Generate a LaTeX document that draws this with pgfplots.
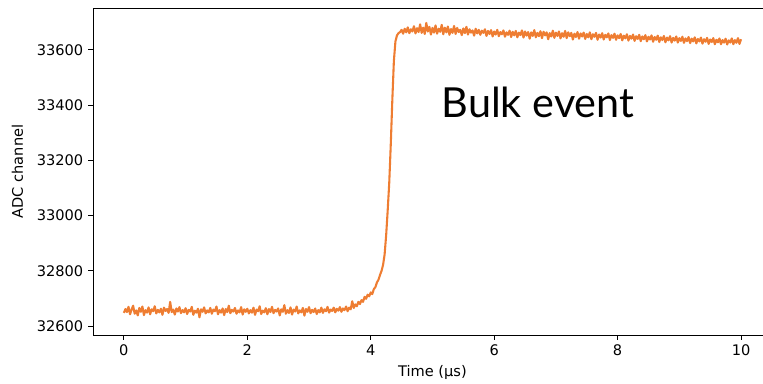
\documentclass[border=0pt]{standalone}
\usepackage{fontspec}
\setmainfont{DejaVu Sans}
\newfontfamily\lato{Lato}
\usepackage{pgfplots}
\usepackage{pgfplotstable}
\pgfplotsset{compat=1.18}
\definecolor{trace}{RGB}{238,125,50}
\pgfplotstableread{
x y
0.000 32648
0.025 32662
0.050 32651
0.075 32670
0.100 32643
0.125 32660
0.150 32674
0.175 32645
0.200 32657
0.225 32639
0.250 32666
0.275 32652
0.300 32671
0.325 32640
0.350 32658
0.375 32649
0.400 32668
0.425 32643
0.450 32661
0.475 32654
0.500 32672
0.525 32646
0.550 32659
0.575 32650
0.600 32663
0.625 32641
0.650 32667
0.675 32655
0.700 32662
0.725 32648
0.750 32688
0.775 32651
0.800 32660
0.825 32642
0.850 32664
0.875 32653
0.900 32669
0.925 32647
0.950 32658
0.975 32650
1.000 32665
1.025 32644
1.050 32659
1.075 32653
1.100 32670
1.125 32641
1.150 32656
1.175 32649
1.200 32663
1.225 32632
1.250 32661
1.275 32652
1.300 32668
1.325 32646
1.350 32657
1.375 32650
1.400 32666
1.425 32645
1.450 32660
1.475 32654
1.500 32671
1.525 32643
1.550 32658
1.575 32649
1.600 32664
1.625 32640
1.650 32662
1.675 32651
1.700 32674
1.725 32647
1.750 32659
1.775 32653
1.800 32666
1.825 32645
1.850 32657
1.875 32650
1.900 32669
1.925 32642
1.950 32661
1.975 32652
2.000 32663
2.025 32646
2.050 32658
2.075 32649
2.100 32667
2.125 32641
2.150 32660
2.175 32654
2.200 32672
2.225 32644
2.250 32656
2.275 32650
2.300 32665
2.325 32643
2.350 32662
2.375 32651
2.400 32670
2.425 32647
2.450 32659
2.475 32653
2.500 32664
2.525 32639
2.550 32661
2.575 32652
2.600 32676
2.625 32645
2.650 32658
2.675 32648
2.700 32668
2.725 32642
2.750 32660
2.775 32653
2.800 32671
2.825 32646
2.850 32657
2.875 32650
2.900 32666
2.925 32638
2.950 32662
2.975 32652
3.000 32669
3.025 32647
3.050 32659
3.075 32651
3.100 32664
3.125 32644
3.150 32658
3.175 32650
3.200 32667
3.225 32648
3.250 32661
3.275 32654
3.300 32670
3.325 32649
3.350 32660
3.375 32655
3.400 32667
3.425 32650
3.450 32663
3.475 32656
3.500 32669
3.525 32652
3.550 32664
3.575 32658
3.600 32671
3.625 32654
3.650 32667
3.675 32661
3.700 32690
3.725 32666
3.750 32679
3.775 32672
3.800 32688
3.825 32680
3.850 32694
3.875 32688
3.900 32706
3.925 32699
3.950 32714
3.975 32708
4.000 32722
4.025 32716
4.050 32734
4.075 32741
4.100 32758
4.125 32768
4.150 32785
4.175 32800
4.200 32822
4.225 32860
4.250 32930
4.275 33020
4.300 33120
4.325 33260
4.350 33420
4.375 33560
4.400 33630
4.425 33652
4.450 33660
4.475 33664
4.500 33672
4.525 33658
4.550 33676
4.575 33663
4.600 33681
4.625 33660
4.650 33674
4.675 33666
4.700 33685
4.725 33659
4.750 33678
4.775 33664
4.800 33692
4.825 33661
4.850 33680
4.875 33657
4.900 33697
4.925 33666
4.950 33683
4.975 33655
5.000 33679
5.025 33662
5.050 33688
5.075 33658
5.100 33676
5.125 33665
5.150 33690
5.175 33656
5.200 33680
5.225 33663
5.250 33684
5.275 33654
5.300 33675
5.325 33661
5.350 33686
5.375 33657
5.400 33679
5.425 33664
5.450 33672
5.475 33653
5.500 33677
5.525 33660
5.550 33683
5.575 33655
5.600 33674
5.625 33662
5.650 33670
5.675 33651
5.700 33676
5.725 33659
5.750 33672
5.775 33654
5.800 33669
5.825 33661
5.850 33674
5.875 33650
5.900 33668
5.925 33657
5.950 33671
5.975 33648
6.000 33666
6.025 33655
6.050 33672
6.075 33649
6.100 33664
6.125 33656
6.150 33670
6.175 33647
6.200 33663
6.225 33654
6.250 33669
6.275 33646
6.300 33665
6.325 33652
6.350 33668
6.375 33645
6.400 33662
6.425 33653
6.450 33670
6.475 33644
6.500 33666
6.525 33651
6.550 33664
6.575 33640
6.600 33663
6.625 33650
6.650 33671
6.675 33645
6.700 33661
6.725 33649
6.750 33667
6.775 33642
6.800 33665
6.825 33652
6.850 33663
6.875 33638
6.900 33660
6.925 33648
6.950 33669
6.975 33643
7.000 33662
7.025 33650
7.050 33666
7.075 33641
7.100 33660
7.125 33647
7.150 33668
7.175 33642
7.200 33663
7.225 33649
7.250 33661
7.275 33637
7.300 33658
7.325 33646
7.350 33664
7.375 33640
7.400 33659
7.425 33648
7.450 33662
7.475 33639
7.500 33657
7.525 33645
7.550 33663
7.575 33638
7.600 33656
7.625 33647
7.650 33661
7.675 33636
7.700 33655
7.725 33644
7.750 33660
7.775 33637
7.800 33654
7.825 33645
7.850 33659
7.875 33635
7.900 33653
7.925 33643
7.950 33658
7.975 33636
8.000 33652
8.025 33642
8.050 33657
8.075 33634
8.100 33651
8.125 33641
8.150 33656
8.175 33633
8.200 33650
8.225 33640
8.250 33655
8.275 33632
8.300 33649
8.325 33639
8.350 33654
8.375 33631
8.400 33648
8.425 33638
8.450 33653
8.475 33630
8.500 33647
8.525 33637
8.550 33652
8.575 33629
8.600 33646
8.625 33636
8.650 33651
8.675 33628
8.700 33645
8.725 33635
8.750 33650
8.775 33627
8.800 33644
8.825 33634
8.850 33649
8.875 33626
8.900 33643
8.925 33633
8.950 33648
8.975 33626
9.000 33642
9.025 33632
9.050 33647
9.075 33625
9.100 33641
9.125 33631
9.150 33646
9.175 33624
9.200 33640
9.225 33630
9.250 33645
9.275 33623
9.300 33639
9.325 33630
9.350 33644
9.375 33622
9.400 33638
9.425 33629
9.450 33643
9.475 33621
9.500 33637
9.525 33628
9.550 33642
9.575 33620
9.600 33636
9.625 33627
9.650 33641
9.675 33620
9.700 33635
9.725 33626
9.750 33640
9.775 33619
9.800 33634
9.825 33626
9.850 33641
9.875 33620
9.900 33635
9.925 33625
9.950 33642
9.975 33621
10.000 33638
}\trace
\begin{document}
\begin{tikzpicture}
\begin{axis}[
  name=ax,
  scale only axis,
  width=488.7pt, height=235.4pt,
  xmin=-0.5, xmax=10.5, ymin=32568, ymax=33751,
  xtick={0,2,4,6,8,10},
  ytick={32600,32800,33000,33200,33400,33600},
  scaled y ticks=false,
  yticklabel style={/pgf/number format/1000 sep={}},
  tick align=outside, tickpos=left,
  major tick length=3.5pt,
  tick style={black, line width=0.6pt},
  axis line style={black, line width=0.6pt},
  /pgf/number format/assume math mode=true,
  tick label style={font=\fontsize{10.5}{12.5}\selectfont},
  label style={font=\fontsize{10.5}{12.5}\selectfont},
  xlabel={Time (µs)},
  ylabel={ADC channel},
  ylabel style={yshift=3pt},
  clip=true,
]
\addplot[trace, line width=1.5pt, line join=round] table[x=x,y=y] {\trace};
\node[anchor=base, font=\lato\fontsize{29.8}{36}\selectfont] at (axis cs:6.71,33355) {Bulk event};
\end{axis}
\pgfresetboundingbox
\path ([xshift=-66.96pt, yshift=-34.56pt]ax.south west) rectangle ([xshift=-6.41pt, yshift=5.76pt]ax.north east);
\end{tikzpicture}
\end{document}
